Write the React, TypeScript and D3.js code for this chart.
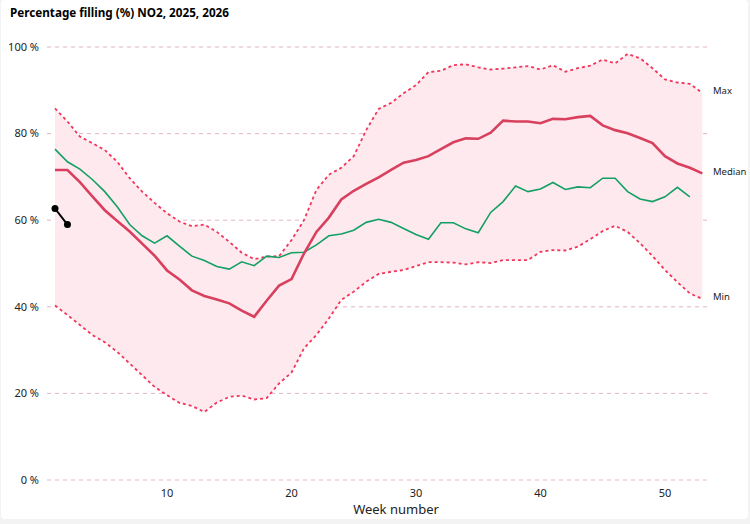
import { useEffect, useRef } from "react";
import * as d3 from "d3";

const weeks = d3.range(1, 54);

const maxValues = [
  85.8, 82.8, 79.3, 77.8, 76.2, 73.5, 69.7, 66.6, 64.0, 61.6, 59.7, 58.6, 59.0,
  57.3, 55.0, 52.5, 51.0, 51.6, 51.7, 55.4, 60.0, 67.0, 70.5, 72.1, 74.8, 80.8,
  85.7, 87.1, 89.3, 91.2, 94.2, 94.5, 95.8, 96.0, 95.3, 94.8, 95.0, 95.3, 95.6,
  94.8, 95.8, 94.3, 95.1, 95.7, 97.1, 96.2, 98.4, 97.4, 95.1, 92.5, 91.8, 91.5,
  89.4,
];

const medianValues = [
  71.6, 71.6, 68.8, 65.5, 62.3, 59.8, 57.4, 54.6, 51.8, 48.4, 46.3, 43.8, 42.5,
  41.7, 40.8, 39.1, 37.7, 41.4, 44.9, 46.4, 52.3, 57.3, 60.6, 64.8, 66.8, 68.4,
  69.9, 71.6, 73.3, 73.9, 74.8, 76.4, 78.0, 78.9, 78.8, 80.2, 83.0, 82.8, 82.8,
  82.4, 83.4, 83.3, 83.8, 84.1, 81.9, 80.8, 80.1, 79.0, 77.8, 74.8, 73.1, 72.1,
  70.8,
];

const minValues = [
  40.3, 38.1, 35.8, 33.5, 31.8, 29.6, 26.9, 24.2, 21.5, 19.6, 17.8, 17.1, 15.7,
  17.9, 19.2, 19.5, 18.6, 18.9, 22.3, 24.8, 30.4, 33.5, 37.3, 41.6, 43.5, 45.8,
  47.6, 48.1, 48.5, 49.4, 50.3, 50.3, 50.2, 49.8, 50.3, 50.1, 50.8, 50.8, 50.8,
  52.7, 53.1, 53.0, 53.9, 55.6, 57.5, 58.7, 57.3, 54.7, 51.7, 48.5, 45.7, 43.1,
  41.8,
];

// 2025
const series2025 = [
  76.4, 73.5, 71.8, 69.4, 66.6, 63.1, 59.0, 56.4, 54.7, 56.4, 54.0, 51.7, 50.7,
  49.3, 48.7, 50.4, 49.5, 51.7, 51.4, 52.5, 52.6, 54.3, 56.4, 56.8, 57.7, 59.5,
  60.2, 59.5, 58.1, 56.7, 55.6, 59.4, 59.4, 58.0, 57.1, 61.8, 64.3, 67.9, 66.6,
  67.2, 68.7, 67.1, 67.7, 67.5, 69.7, 69.7, 66.6, 64.9, 64.3, 65.4, 67.6, 65.4,
];

// 2026
const series2026 = [62.7, 59.0];

const yTicks = [0, 20, 40, 60, 80, 100];
const xTicks = [10, 20, 30, 40, 50];

const W = 750;
const H = 524;
const FONT = "'Noto Sans', 'Open Sans', sans-serif";

export default function App() {
  const ref = useRef<SVGSVGElement | null>(null);

  useEffect(() => {
    document.body.style.margin = "0";
    const svg = d3.select(ref.current);
    svg.selectAll("*").remove();

    const x = d3.scaleLinear().domain([1, 53]).range([55, 702.3]);
    const y = d3.scaleLinear().domain([0, 100]).range([480, 47]);

    svg.append("rect").attr("width", W).attr("height", H).attr("fill", "#f3f3f3");
    svg
      .append("rect")
      .attr("x", 1)
      .attr("y", 0)
      .attr("width", W - 3)
      .attr("height", 519)
      .attr("rx", 4)
      .attr("fill", "#fff");

    svg
      .append("text")
      .attr("x", 10)
      .attr("y", 17)
      .attr("font-family", FONT)
      .attr("font-size", 11.7)
      .attr("font-weight", "bold")
      .attr("fill", "#000")
      .text("Percentage filling (%) NO2, 2025, 2026");

    // grid + y labels
    const gy = svg.append("g");
    yTicks.forEach((t) => {
      gy.append("line")
        .attr("x1", 47)
        .attr("x2", 710)
        .attr("y1", y(t))
        .attr("y2", y(t))
        .attr("stroke", "#e0b6c3")
        .attr("stroke-width", 1)
        .attr("stroke-dasharray", "4,4");
      gy.append("text")
        .attr("x", 39)
        .attr("y", y(t))
        .attr("dy", "0.35em")
        .attr("text-anchor", "end")
        .attr("font-family", FONT)
        .attr("font-size", 11)
        .attr("fill", "#222")
        .text(`${t} %`);
    });

    xTicks.forEach((t) => {
      svg
        .append("text")
        .attr("x", x(t))
        .attr("y", 497)
        .attr("text-anchor", "middle")
        .attr("font-family", FONT)
        .attr("font-size", 11)
        .attr("fill", "#222")
        .text(t);
    });

    svg
      .append("text")
      .attr("x", 396)
      .attr("y", 514)
      .attr("text-anchor", "middle")
      .attr("font-family", FONT)
      .attr("font-size", 13)
      .attr("fill", "#222")
      .text("Week number");

    const area = d3
      .area<number>()
      .x((w) => x(w))
      .y0((_, i) => y(minValues[i]))
      .y1((_, i) => y(maxValues[i]));

    svg.append("path").datum(weeks).attr("fill", "#fde9ee").attr("d", area);

    const line = (vals: number[]) =>
      d3
        .line<number>()
        .x((_, i) => x(weeks[i]))
        .y((v) => y(v))(vals);

    [maxValues, minValues].forEach((vals) => {
      svg
        .append("path")
        .attr("d", line(vals))
        .attr("fill", "none")
        .attr("stroke", "#f2355b")
        .attr("stroke-width", 1.8)
        .attr("stroke-dasharray", "3,3");
    });

    svg
      .append("path")
      .attr("d", line(series2025))
      .attr("fill", "none")
      .attr("stroke", "#14a064")
      .attr("stroke-width", 1.6);

    svg
      .append("path")
      .attr("d", line(medianValues))
      .attr("fill", "none")
      .attr("stroke", "#d8405e")
      .attr("stroke-width", 2.6);

    svg
      .append("path")
      .attr("d", line(series2026))
      .attr("fill", "none")
      .attr("stroke", "#000")
      .attr("stroke-width", 2);

    svg
      .selectAll("circle.p26")
      .data(series2026)
      .join("circle")
      .attr("class", "p26")
      .attr("cx", (_, i) => x(weeks[i]))
      .attr("cy", (v) => y(v))
      .attr("r", 3.5)
      .attr("fill", "#000");

    const endLabels: [string, number[]][] = [
      ["Max", maxValues],
      ["Median", medianValues],
      ["Min", minValues],
    ];
    endLabels.forEach(([name, vals]) => {
      svg
        .append("text")
        .attr("x", 713)
        .attr("y", y(vals[vals.length - 1]) - 2)
        .attr("dy", "0.35em")
        .attr("font-family", FONT)
        .attr("font-size", 9.5)
        .attr("fill", "#222")
        .text(name);
    });
  }, []);

  return (
    <svg
      ref={ref}
      width={W}
      height={H}
      style={{ position: "fixed", left: 0, top: 0, display: "block" }}
    />
  );
}
